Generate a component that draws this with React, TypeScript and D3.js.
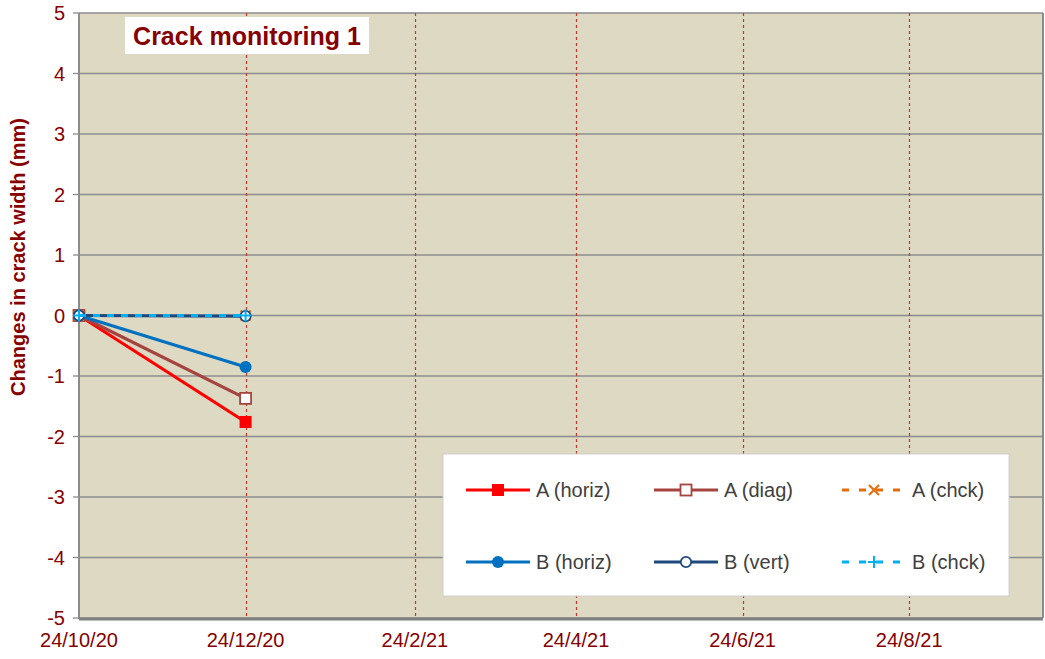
import * as d3 from "d3";

// data
const dates = ["2020-10-24", "2020-12-24"];
const aHoriz = [0, -1.76];
const aDiag = [0, -1.37];
const aChck = [0, 0];
const bHoriz = [0, -0.85];
const bVert = [0, -0.01];
const bChck = [0, 0];

const yTicks = [-5, -4, -3, -2, -1, 0, 1, 2, 3, 4, 5];
const xTickDates = ["2020-10-24", "2020-12-24", "2021-02-24", "2021-04-24", "2021-06-24", "2021-08-24"];

const width = 1045;
const height = 659;
const marginLeft = 79;
const marginRight = 2;
const marginTop = 13;
const marginBottom = 41;

const dark = "#860000";
const parse = d3.timeParse("%Y-%m-%d");
const fmt = (d: Date) => `${d.getDate()}/${d.getMonth() + 1}/${String(d.getFullYear()).slice(2)}`;

type Series = { name: string; values: number[]; color: string; dash?: string; marker: string };

const series: Series[] = [
  { name: "A (horiz)", values: aHoriz, color: "#ff0000", marker: "squareFill" },
  { name: "A (diag)", values: aDiag, color: "#a5443e", marker: "squareOpen" },
  { name: "A (chck)", values: aChck, color: "#e46c0a", dash: "7,7", marker: "cross" },
  { name: "B (horiz)", values: bHoriz, color: "#0070c0", marker: "circleFill" },
  { name: "B (vert)", values: bVert, color: "#1f497d", marker: "circleOpen" },
  { name: "B (chck)", values: bChck, color: "#00b0f0", dash: "7,7", marker: "plus" },
];

function Marker({ kind, x, y, color }: { kind: string; x: number; y: number; color: string }) {
  if (kind === "squareFill")
    return <rect x={x - 6} y={y - 6} width={12} height={12} fill={color} />;
  if (kind === "squareOpen")
    return <rect x={x - 5.5} y={y - 5.5} width={11} height={11} fill="#fff" stroke={color} strokeWidth={1.8} />;
  if (kind === "circleFill") return <circle cx={x} cy={y} r={6} fill={color} />;
  if (kind === "circleOpen")
    return <circle cx={x} cy={y} r={5.2} fill="#fff" stroke={color} strokeWidth={1.8} />;
  if (kind === "cross")
    return (
      <path d={`M${x - 5},${y - 5}L${x + 5},${y + 5}M${x - 5},${y + 5}L${x + 5},${y - 5}`} stroke={color} strokeWidth={2} />
    );
  return <path d={`M${x - 6},${y}L${x + 6},${y}M${x},${y - 6}L${x},${y + 6}`} stroke={color} strokeWidth={2} />;
}

export default function App() {
  const x = d3
    .scaleTime()
    .domain([parse("2020-10-24")!, parse("2021-10-12")!])
    .range([marginLeft, width - marginRight]);
  const y = d3.scaleLinear().domain([-5, 5]).range([height - marginBottom, marginTop]);

  const line = d3
    .line<number>()
    .x((_, i) => x(parse(dates[i])!))
    .y((d) => y(d));

  const plotW = width - marginRight - marginLeft;
  const plotH = height - marginBottom - marginTop;

  // legend layout
  const legX = 443, legY = 454, legW = 566, legH = 142;
  const colX = [466, 654, 842];
  const rowY = [490, 562];

  return (
    <svg width={width} height={height} style={{ position: "absolute", left: 0, top: 0 }} fontFamily="Liberation Sans, Arial, sans-serif">
      <rect x={marginLeft} y={marginTop} width={plotW} height={plotH} fill="#ddd9c3" />

      {/* horizontal grid */}
      {yTicks.map((t) => (
        <g key={t}>
          <line x1={marginLeft} x2={width - marginRight} y1={y(t)} y2={y(t)} stroke="#8c8c8c" strokeWidth={1.6} />
          <line x1={marginLeft - 6} x2={marginLeft} y1={y(t)} y2={y(t)} stroke="#8c8c8c" strokeWidth={1.3} />
          <text x={65} y={y(t)} dy="0.35em" textAnchor="end" fontSize={20} fill={dark}>{t}</text>
        </g>
      ))}

      {/* vertical date grid */}
      {xTickDates.slice(1).map((s) => {
        const px = Math.round(x(parse(s)!)) + 0.5;
        return (
          <line key={s} x1={px} x2={px} y1={marginTop} y2={height - marginBottom}
            stroke="#c0392b" strokeWidth={1.2} strokeDasharray="3,3" />
        );
      })}

      {/* frame */}
      <line x1={marginLeft} x2={marginLeft} y1={marginTop} y2={height - marginBottom + 1} stroke="#8c8c8c" strokeWidth={2} />
      <line x1={width - marginRight} x2={width - marginRight} y1={marginTop} y2={height - marginBottom} stroke="#8c8c8c" strokeWidth={2} />
      <line x1={marginLeft} x2={width - marginRight} y1={height - marginBottom + 1} y2={height - marginBottom + 1} stroke="#808080" strokeWidth={3} />

      {xTickDates.map((s) => (
        <text key={s} x={x(parse(s)!)} y={647} textAnchor="middle" fontSize={20} fill={dark}>{fmt(parse(s)!)}</text>
      ))}

      <text transform={`translate(25,257) rotate(-90)`} textAnchor="middle"
        fontSize={20} fontWeight="bold" fill={dark}>Changes in crack width (mm)</text>

      {/* title */}
      <rect x={125} y={17} width={244} height={37} fill="#fff" />
      <text x={247} y={36} dy="0.36em" textAnchor="middle" fontSize={25} fontWeight="bold" fill={dark}>Crack monitoring 1</text>

      {/* series */}
      {series.map((s) => (
        <g key={s.name}>
          <path d={line(s.values)!} fill="none" stroke={s.color} strokeWidth={3.2} strokeDasharray={s.dash} />
          {s.values.map((v, i) => (
            <Marker key={i} kind={s.marker} x={x(parse(dates[i])!)} y={y(v)} color={s.color} />
          ))}
        </g>
      ))}

      {/* legend */}
      <rect x={legX} y={legY} width={legW} height={legH} fill="#fff" stroke="#d0d0d0" strokeWidth={1} />
      {series.map((s, i) => {
        const cx = colX[i % 3];
        const cy = rowY[Math.floor(i / 3)];
        return (
          <g key={s.name}>
            <line x1={cx} x2={cx + 64} y1={cy} y2={cy} stroke={s.color} strokeWidth={3.2} strokeDasharray={s.dash ? "7,10" : undefined} />
            <Marker kind={s.marker} x={cx + 32} y={cy} color={s.color} />
            <text x={cx + 70} y={cy} dy="0.35em" fontSize={20} fill="#404040">{s.name}</text>
          </g>
        );
      })}
    </svg>
  );
}
